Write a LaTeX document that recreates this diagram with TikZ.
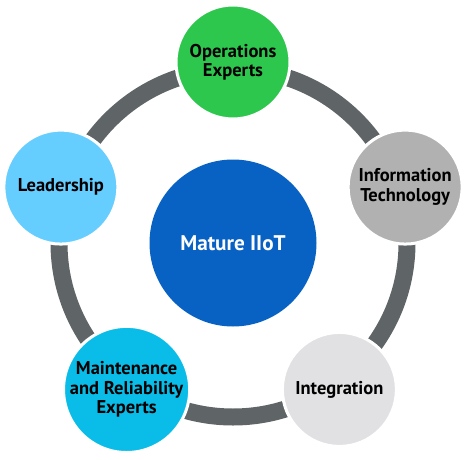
\documentclass[tikz,border=0pt]{standalone}
\usepackage{fontspec}
\setmainfont{PT Sans}
\usetikzlibrary{calc}
\definecolor{ringgray}{HTML}{5F6567}
\definecolor{opsgreen}{HTML}{2EC74E}
\definecolor{itgray}{HTML}{B0B1B0}
\definecolor{intgray}{HTML}{E1E0E3}
\definecolor{maincyan}{HTML}{0ABDE8}
\definecolor{leadblue}{HTML}{66CDFF}
\definecolor{coreblue}{HTML}{0862C4}
\begin{document}
\begin{tikzpicture}[x=1pt,y=1pt,
  petal/.style={circle,draw=white,line width=3pt,minimum size=114pt,inner sep=0pt,align=center,
    font=\fontsize{18.5}{19.5}\selectfont\bfseries,text=black},
  core/.style={circle,fill=coreblue,minimum size=167pt,inner sep=0pt,
    font=\fontsize{21.2}{23}\selectfont\bfseries,text=white}]
\useasboundingbox (0,0) rectangle (468,459);
\coordinate (c) at (233,216);
\draw[ringgray,line width=17pt] (c) circle[radius=174];
\node[core] (core) at (c) {Mature IIoT};
\node[petal,fill=opsgreen] (ops) at ($(c)+(90:181)$) {Operations\\Experts};
\node[petal,fill=itgray] (it) at ($(c)+(18:181)$) {Information\\Technology};
\node[petal,fill=intgray] (int) at ($(c)+(-54:181)$) {Integration};
\node[petal,fill=maincyan] (mr) at ($(c)+(-126:181)$) {Maintenance\\and Reliability\\Experts};
\node[petal,fill=leadblue] (lead) at ($(c)+(162:181)$) {Leadership};
\end{tikzpicture}
\end{document}
